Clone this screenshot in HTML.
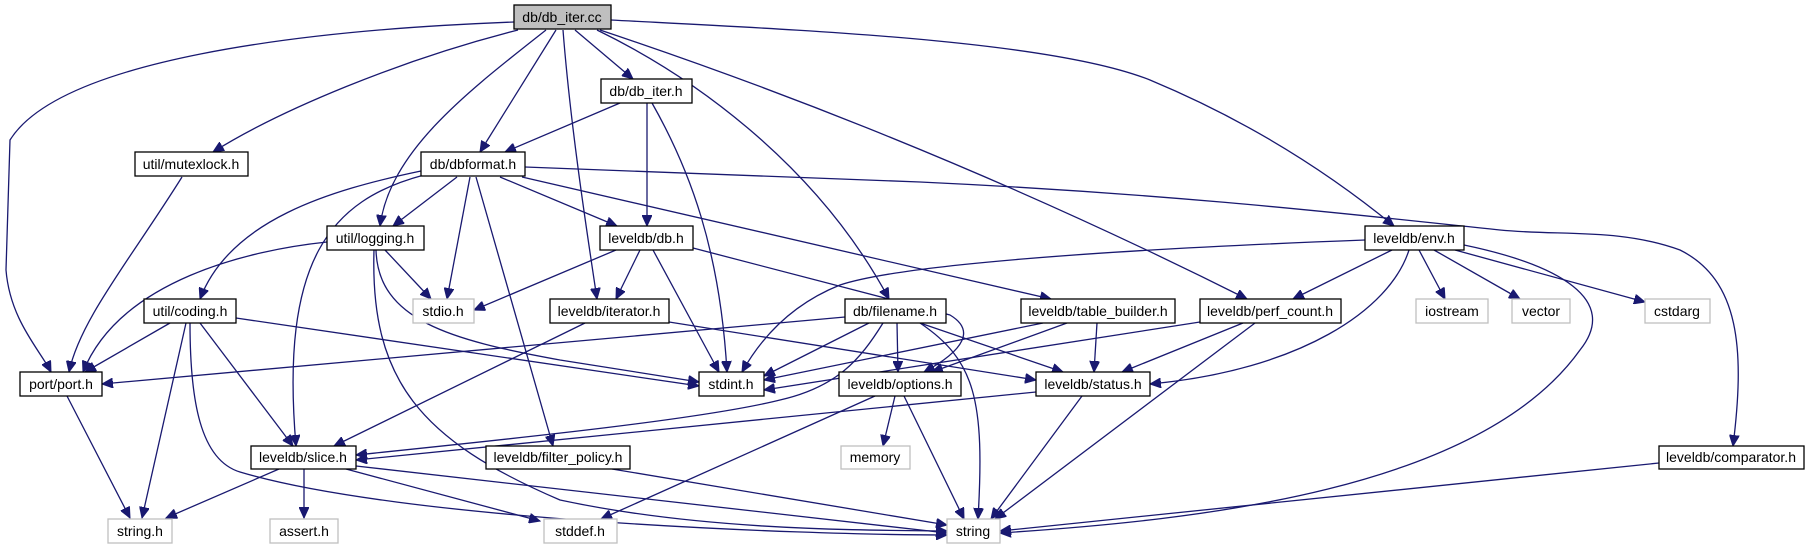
<!DOCTYPE html>
<html><head><meta charset="utf-8"><style>
html,body{margin:0;padding:0;background:#fff;}
svg{display:block;}
text{font-family:"Liberation Sans",Arial,sans-serif;font-size:14px;fill:#000;}
.e{fill:none;stroke:#191970;stroke-width:1.3;}
</style></head><body>
<svg width="1810" height="549" viewBox="0 0 1810 549" xmlns="http://www.w3.org/2000/svg">
<defs><marker id="a" markerUnits="userSpaceOnUse" markerWidth="12" markerHeight="10" refX="11" refY="5" orient="auto"><path d="M0,0 L11,5 L0,10 z" fill="#191970" stroke="#191970"/></marker></defs>
<g class="e" marker-end="url(#a)">
<path d="M514,22 C300,30 60,60 10,140 L6,270 C10,320 40,350 51,372"/>
<path d="M518,30 C400,60 280,110 213,152"/>
<path d="M546,30 C470,90 390,150 380,226"/>
<path d="M556,30 L480,152"/>
<path d="M563,30 C570,120 585,220 597,299"/>
<path d="M575,30 L633,79"/>
<path d="M597,30 C700,80 820,170 889,299"/>
<path d="M600,30 Q930,140 1247,299"/>
<path d="M611,20 C800,30 1050,40 1150,80 C1270,130 1350,190 1394,226"/>
<path d="M620,103 L505,152"/>
<path d="M647,103 L647,226"/>
<path d="M652,103 C690,170 720,250 727,372"/>
<path d="M182,177 C130,260 80,320 69,372"/>
<path d="M457,177 L393,226"/>
<path d="M421,171 C330,190 230,220 200,299"/>
<path d="M424,175 C330,200 280,260 296,446"/>
<path d="M470,177 L447,299"/>
<path d="M476,177 L553,446"/>
<path d="M500,177 L617,226"/>
<path d="M522,177 L1051,299"/>
<path d="M525,167 L920,182 C1200,195 1400,220 1500,230 C1560,236 1620,228 1680,250 C1740,280 1745,350 1733,446"/>
<path d="M327,242 C250,250 120,280 83,372"/>
<path d="M385,250 L431,299"/>
<path d="M376,250 C378,320 450,340 560,360 L699,382"/>
<path d="M374,250 C370,380 420,440 560,500 C700,530 850,530 947,531"/>
<path d="M616,250 L474,310"/>
<path d="M640,250 L616,299"/>
<path d="M653,250 L719,372"/>
<path d="M693,248 L950,315 C975,330 965,350 924,372"/>
<path d="M170,323 L85,372"/>
<path d="M186,323 L142,518"/>
<path d="M200,323 L293,446"/>
<path d="M236,318 L699,386"/>
<path d="M190,323 C190,400 200,460 240,472 C400,520 800,535 947,535"/>
<path d="M585,323 L334,446"/>
<path d="M669,322 L1036,380"/>
<path d="M845,317 L102,384"/>
<path d="M869,323 L764,376"/>
<path d="M897,323 L898,372"/>
<path d="M920,323 L1063,372"/>
<path d="M883,323 C860,360 837,387 780,400 C700,420 500,440 356,455"/>
<path d="M920,323 C975,360 985,400 978,519"/>
<path d="M1043,323 L764,380"/>
<path d="M1067,323 L932,372"/>
<path d="M1097,323 L1094,372"/>
<path d="M1200,322 L764,390"/>
<path d="M1243,323 L1122,372"/>
<path d="M1255,323 L995,519"/>
<path d="M1365,240 C1100,250 900,265 840,285 C790,305 760,340 742,372"/>
<path d="M1392,250 L1293,299"/>
<path d="M1409,250 C1390,310 1300,370 1150,384"/>
<path d="M1419,250 L1445,299"/>
<path d="M1434,250 L1520,299"/>
<path d="M1455,250 L1645,302"/>
<path d="M1464,245 C1560,265 1620,300 1580,350 C1480,490 1200,520 1000,533"/>
<path d="M895,396 L883,446"/>
<path d="M904,396 L964,519"/>
<path d="M875,396 L601,519"/>
<path d="M1036,392 L356,460"/>
<path d="M1082,396 L991,519"/>
<path d="M279,469 L166,518"/>
<path d="M304,469 L304,518"/>
<path d="M346,469 L540,521"/>
<path d="M356,466 L947,533"/>
<path d="M612,469 L947,525"/>
<path d="M1659,463 L1000,531"/>
<path d="M67,396 L130,518"/>
</g>
<g stroke-width="1.3">
<rect x="514" y="5" width="97" height="24" fill="#bfbfbf" stroke="#000"/>
<rect x="601" y="79" width="91" height="24" fill="#fff" stroke="#000"/>
<rect x="135" y="152" width="113" height="24" fill="#fff" stroke="#000"/>
<rect x="421" y="152" width="104" height="24" fill="#fff" stroke="#000"/>
<rect x="327" y="226" width="97" height="24" fill="#fff" stroke="#000"/>
<rect x="600" y="226" width="93" height="24" fill="#fff" stroke="#000"/>
<rect x="1365" y="226" width="99" height="24" fill="#fff" stroke="#000"/>
<rect x="144" y="299" width="92" height="24" fill="#fff" stroke="#000"/>
<rect x="413" y="299" width="61" height="24" fill="#fff" stroke="#bfbfbf"/>
<rect x="550" y="299" width="119" height="24" fill="#fff" stroke="#000"/>
<rect x="845" y="299" width="101" height="24" fill="#fff" stroke="#000"/>
<rect x="1021" y="299" width="154" height="24" fill="#fff" stroke="#000"/>
<rect x="1200" y="299" width="141" height="24" fill="#fff" stroke="#000"/>
<rect x="1416" y="299" width="72" height="24" fill="#fff" stroke="#bfbfbf"/>
<rect x="1512" y="299" width="58" height="24" fill="#fff" stroke="#bfbfbf"/>
<rect x="1645" y="299" width="65" height="24" fill="#fff" stroke="#bfbfbf"/>
<rect x="20" y="372" width="82" height="24" fill="#fff" stroke="#000"/>
<rect x="699" y="372" width="65" height="24" fill="#fff" stroke="#000"/>
<rect x="839" y="372" width="122" height="24" fill="#fff" stroke="#000"/>
<rect x="1036" y="372" width="114" height="24" fill="#fff" stroke="#000"/>
<rect x="251" y="446" width="105" height="23" fill="#fff" stroke="#000"/>
<rect x="486" y="446" width="144" height="23" fill="#fff" stroke="#000"/>
<rect x="841" y="446" width="69" height="23" fill="#fff" stroke="#bfbfbf"/>
<rect x="1659" y="446" width="145" height="23" fill="#fff" stroke="#000"/>
<rect x="108" y="519" width="64" height="24" fill="#fff" stroke="#bfbfbf"/>
<rect x="270" y="519" width="68" height="24" fill="#fff" stroke="#bfbfbf"/>
<rect x="544" y="519" width="73" height="24" fill="#fff" stroke="#bfbfbf"/>
<rect x="947" y="519" width="53" height="24" fill="#fff" stroke="#bfbfbf"/>
</g>
<g text-anchor="middle">
<text x="562" y="22">db/db_iter.cc</text>
<text x="646" y="96">db/db_iter.h</text>
<text x="191" y="169">util/mutexlock.h</text>
<text x="473" y="169">db/dbformat.h</text>
<text x="375" y="243">util/logging.h</text>
<text x="646" y="243">leveldb/db.h</text>
<text x="1414" y="243">leveldb/env.h</text>
<text x="190" y="316">util/coding.h</text>
<text x="443" y="316">stdio.h</text>
<text x="609" y="316">leveldb/iterator.h</text>
<text x="895" y="316">db/filename.h</text>
<text x="1098" y="316">leveldb/table_builder.h</text>
<text x="1270" y="316">leveldb/perf_count.h</text>
<text x="1452" y="316">iostream</text>
<text x="1541" y="316">vector</text>
<text x="1677" y="316">cstdarg</text>
<text x="61" y="389">port/port.h</text>
<text x="731" y="389">stdint.h</text>
<text x="900" y="389">leveldb/options.h</text>
<text x="1093" y="389">leveldb/status.h</text>
<text x="303" y="462">leveldb/slice.h</text>
<text x="558" y="462">leveldb/filter_policy.h</text>
<text x="875" y="462">memory</text>
<text x="1731" y="462">leveldb/comparator.h</text>
<text x="140" y="536">string.h</text>
<text x="304" y="536">assert.h</text>
<text x="580" y="536">stddef.h</text>
<text x="973" y="536">string</text>
</g>
</svg>
</body></html>
